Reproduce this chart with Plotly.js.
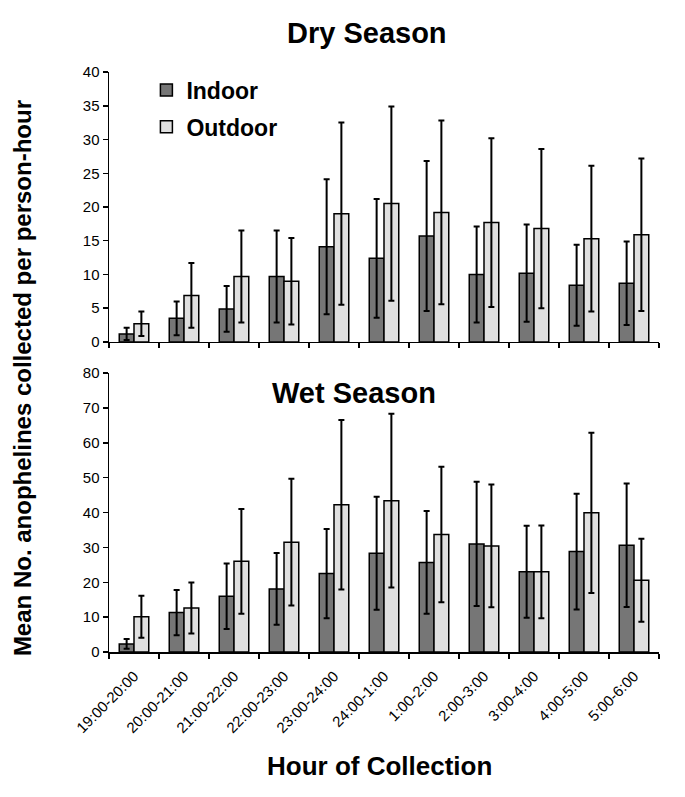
<!DOCTYPE html>
<html>
<head>
<meta charset="utf-8">
<script src="https://cdn.plot.ly/plotly-3.0.1.min.js"></script>
<style>html,body{margin:0;padding:0;background:#fff;}#chart{width:685px;height:797px;}</style>
</head>
<body>
<div id="chart"></div>
<script>
const hours = ["19:00-20:00","20:00-21:00","21:00-22:00","22:00-23:00","23:00-24:00","24:00-1:00","1:00-2:00","2:00-3:00","3:00-4:00","4:00-5:00","5:00-6:00"];

const dryIndoor     = [1.2, 3.5, 4.9, 9.7, 14.1, 12.4, 15.7, 10.0, 10.2, 8.4, 8.7];
const dryIndoorErr  = [0.9, 2.5, 3.4, 6.8, 10.0, 8.8, 11.1, 7.1, 7.2, 6.0, 6.2];
const dryOutdoor    = [2.7, 6.9, 9.7, 9.0, 19.0, 20.5, 19.2, 17.7, 16.8, 15.3, 15.9];
const dryOutdoorErr = [1.8, 4.8, 6.8, 6.4, 13.5, 14.4, 13.6, 12.5, 11.8, 10.8, 11.3];

const wetIndoor     = [2.3, 11.3, 16.0, 18.1, 22.5, 28.3, 25.7, 31.0, 23.0, 28.8, 30.6];
const wetIndoorErr  = [1.4, 6.5, 9.4, 10.3, 12.8, 16.2, 14.7, 17.8, 13.2, 16.6, 17.7];
const wetOutdoor    = [10.1, 12.6, 26.0, 31.5, 42.2, 43.4, 33.7, 30.4, 23.0, 39.9, 20.6];
const wetOutdoorErr = [6.0, 7.3, 15.0, 18.2, 24.3, 24.9, 19.4, 17.6, 13.3, 23.0, 11.9];

const FONT = "Liberation Sans, Arial, sans-serif";
const indoorColor = "#767676";
const outdoorColor = "#e0e0e0";

function bar(name, y, err, color, xa, ya, show, grp) {
  return {
    type: "bar", name: name, x: hours, y: y,
    xaxis: xa, yaxis: ya, showlegend: show, legendgroup: grp,
    marker: {color: color, line: {color: "#000", width: 1.5}},
    error_y: {type: "data", array: err, visible: true, color: "#000", thickness: 2, width: 3}
  };
}

const data = [
  bar("Indoor", dryIndoor, dryIndoorErr, indoorColor, "x", "y", true, "in"),
  bar("Outdoor", dryOutdoor, dryOutdoorErr, outdoorColor, "x", "y", true, "out"),
  bar("Indoor", wetIndoor, wetIndoorErr, indoorColor, "x2", "y2", false, "in"),
  bar("Outdoor", wetOutdoor, wetOutdoorErr, outdoorColor, "x2", "y2", false, "out")
];

const xCommon = {
  type: "category", range: [-0.5, 10.5], showline: true, linecolor: "#000", linewidth: 1.5,
  ticks: "outside", tickson: "boundaries", ticklen: 5, tickwidth: 1.5, tickcolor: "#000",
  showgrid: false, zeroline: false, fixedrange: true
};
const yCommon = {
  showline: true, linecolor: "#000", linewidth: 1.5, ticks: "outside", ticklen: 5,
  tickwidth: 1.5, tickcolor: "#000", showgrid: false, zeroline: false,
  tickfont: {family: FONT, size: 15, color: "#000"}
};

const layout = {
  width: 685, height: 797,
  margin: {l: 109, r: 26, t: 72, b: 145},
  paper_bgcolor: "#fff", plot_bgcolor: "#fff",
  barmode: "group", bargap: 0.41, bargroupgap: 0,
  font: {family: FONT, color: "#000"},
  xaxis: Object.assign({}, xCommon, {anchor: "y", showticklabels: false}),
  xaxis2: Object.assign({}, xCommon, {anchor: "y2", tickangle: -45, ticklabelstandoff: 8,
    tickfont: {family: FONT, size: 15, color: "#000"}}),
  yaxis: Object.assign({}, yCommon, {domain: [0.5345, 1], range: [0, 40], dtick: 5, anchor: "x"}),
  yaxis2: Object.assign({}, yCommon, {domain: [0, 0.481], range: [0, 80], dtick: 10, anchor: "x2"}),
  legend: {
    x: 0.068, y: 1.006, xanchor: "left", yanchor: "top",
    bgcolor: "rgba(0,0,0,0)", traceorder: "grouped", tracegroupgap: 4,
    font: {family: FONT, size: 23, color: "#000", weight: "bold"}
  },
  showlegend: true,
  annotations: [
    {text: "<b>Dry Season</b>", xref: "paper", yref: "paper", x: 0.469, y: 1.067,
     xanchor: "center", yanchor: "middle", showarrow: false, font: {family: FONT, size: 29, color: "#000"}},
    {text: "<b>Wet Season</b>", xref: "paper", yref: "paper", x: 0.446, y: 0.446,
     xanchor: "center", yanchor: "middle", showarrow: false, font: {family: FONT, size: 29, color: "#000"}},
    {text: "<b>Mean No. anophelines collected per person-hour</b>", xref: "paper", yref: "paper",
     x: -0.157, y: 0.4716, textangle: -90, xanchor: "center", yanchor: "middle", showarrow: false,
     font: {family: FONT, size: 24, color: "#000"}},
    {text: "<b>Hour of Collection</b>", xref: "paper", yref: "paper", x: 0.4927, y: -0.1966,
     xanchor: "center", yanchor: "middle", showarrow: false, font: {family: FONT, size: 26, color: "#000"}}
  ]
};

Plotly.newPlot("chart", data, layout, {displayModeBar: false, staticPlot: true});
</script>
</body>
</html>
